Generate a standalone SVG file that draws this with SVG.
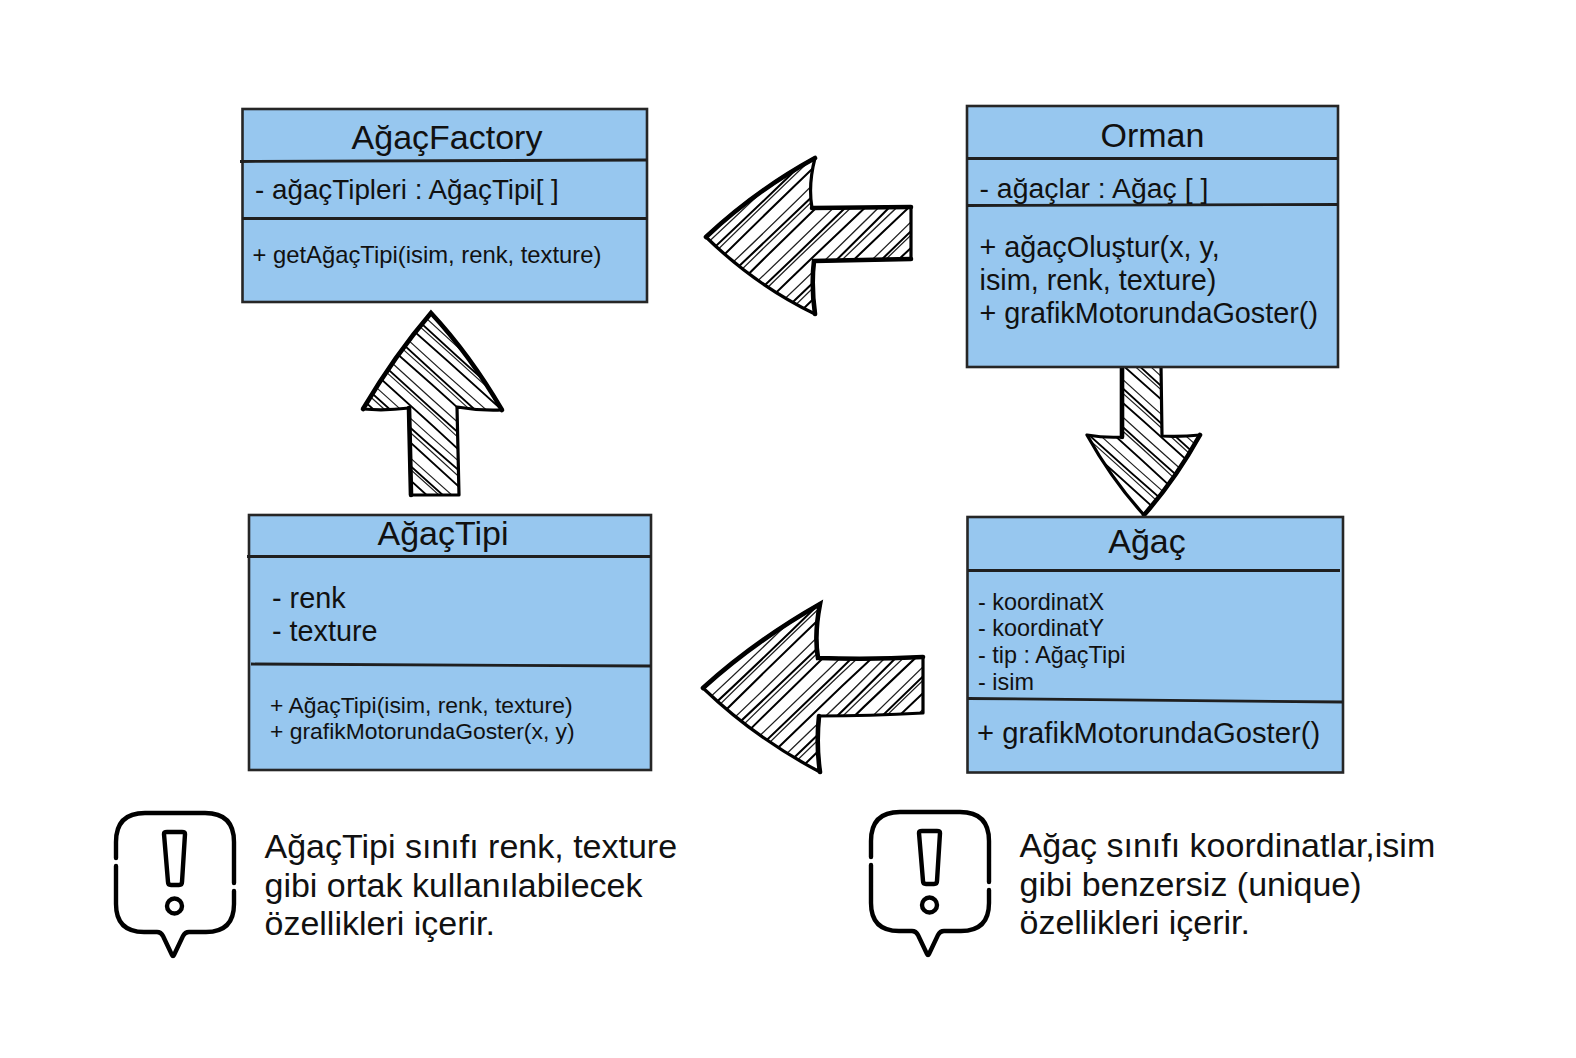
<svg xmlns="http://www.w3.org/2000/svg" xmlns:xlink="http://www.w3.org/1999/xlink" width="1576" height="1058" viewBox="0 0 1576 1058">
<style>
text{font-family:"Liberation Sans",Arial,sans-serif;fill:#111}
.box{fill:#97c7ef;stroke:#262626;stroke-width:2.6}
.sep{stroke:#1f1f1f;stroke-width:2.8;fill:none}
.title{font-size:34px;text-anchor:middle}
.t27{font-size:28px}.t28{font-size:28.8px}.t23{font-size:23.4px}.t235{font-size:23.8px}.t227{font-size:22.9px}
.note{font-size:34px}
.thin{fill:none;stroke:#222;stroke-width:1.2}
.thick{fill:none;stroke:#000;stroke-width:1.9}
.out{fill:none;stroke:#000;stroke-width:3.2;stroke-linejoin:round;stroke-linecap:round}
.heavy{fill:none;stroke:#000;stroke-width:4.6;stroke-linecap:round}
.ic{fill:none;stroke:#000;stroke-width:4.4;stroke-linecap:round;stroke-linejoin:round}
</style>
<defs>
<path id="a1" d="M706 237Q755 191 815 158Q808 185 812 208L911 207L911 259L814 261Q811 285 815 314Q755 285 706 237Z"/>
<path id="a2" d="M431 313Q395 355 363 409Q385 411 409 408L411 495L459 495L457 407Q480 411 502 410Q470 355 431 313Z"/>
<path id="a3" d="M1122 365L1161 365L1162 436Q1180 437 1200 435Q1175 480 1144 515Q1112 480 1087 435Q1105 438 1122 437Z"/>
<path id="a4" d="M703 688Q755 641 820 604Q814 635 818 658Q870 660 923 657L923 713Q870 716 819 716Q816 745 820 772Q755 738 703 688Z"/>
<clipPath id="c1"><use href="#a1"/></clipPath>
<clipPath id="c2"><use href="#a2"/></clipPath>
<clipPath id="c3"><use href="#a3"/></clipPath>
<clipPath id="c4"><use href="#a4"/></clipPath>
<g id="hatch">
<path class="thin" d="M-180 -150q180 4 360 0M-180 -136q180 -3 360 1M-180 -121q180 5 360 -1M-180 -107q180 -4 360 2M-180 -92q180 3 360 0M-180 -78q180 -5 360 -1M-180 -63q180 4 360 2M-180 -49q180 -3 360 0M-180 -34q180 5 360 -2M-180 -20q180 -4 360 1M-180 -5q180 3 360 0M-180 9q180 -5 360 2M-180 24q180 4 360 -1M-180 38q180 -3 360 0M-180 53q180 5 360 1M-180 67q180 -4 360 -2M-180 82q180 3 360 1M-180 96q180 -5 360 0M-180 111q180 4 360 1M-180 125q180 -3 360 -1M-180 140q180 5 360 0"/>
<path class="thick" d="M-180 -157q180 -3 360 1M-180 -143q180 4 360 -1M-180 -128q180 -4 360 1M-180 -114q180 3 360 0M-180 -99q180 -5 360 1M-180 -85q180 4 360 -1M-180 -70q180 -3 360 0M-180 -56q180 5 360 1M-180 -41q180 -4 360 -1M-180 -27q180 3 360 2M-180 -12q180 -5 360 -1M-180 2q180 4 360 0M-180 17q180 -3 360 2M-180 31q180 5 360 -2M-180 46q180 -4 360 0M-180 60q180 3 360 1M-180 75q180 -5 360 0M-180 89q180 4 360 -1M-180 104q180 -3 360 1M-180 118q180 5 360 0M-180 133q180 -4 360 0M-180 147q180 3 360 1"/>
</g>
<g id="icon">
<path class="ic" d="M116 858V842Q116 813 145 813H205Q234 813 234 842V883M234 891V904Q234 932 206 932H189Q185 932 183 936L174 955Q173 957 172 955L163 936Q161 932 157 932H144Q116 932 116 904V866"/>
<path class="ic" d="M164 834Q164 832 167 832H182Q185 832 185 834L182 882Q182 885 179 885H171Q168 885 168 882Z"/>
<circle class="ic" cx="174.500" cy="906" r="7.500"/>
</g>
</defs>

<g id="connectors">
<g id="arrow-orman-factory"><use href="#a1" fill="#fff"/><g clip-path="url(#c1)"><use href="#hatch" transform="translate(810 236) rotate(-44) scale(1 1.08)"/></g><use href="#a1" class="out"/><path class="heavy" d="M706 237Q755 191 815 158M812 208L911 207M815 314Q811 285 814 261L911 259"/></g>
<g id="arrow-tipi-factory"><use href="#a2" fill="#fff"/><g clip-path="url(#c2)"><use href="#hatch" transform="translate(431 403) rotate(42) scale(1 .98)"/></g><use href="#a2" class="out"/><path class="heavy" d="M363 409Q395 355 431 313Q470 355 502 410M409 408L411 495"/></g>
<g id="arrow-orman-agac"><use href="#a3" fill="#fff"/><g clip-path="url(#c3)"><use href="#hatch" transform="translate(1143 440) rotate(42) scale(1 .98)"/></g><use href="#a3" class="out"/><path class="heavy" d="M1122 365L1122 437M1200 435Q1175 480 1144 515"/></g>
<g id="arrow-agac-tipi"><use href="#a4" fill="#fff"/><g clip-path="url(#c4)"><use href="#hatch" transform="translate(815 688) rotate(-44) scale(1 1.08)"/></g><use href="#a4" class="out"/><path class="heavy" d="M703 688Q755 641 820 604Q814 635 818 658Q870 660 923 657M820 772Q816 745 819 716"/></g>
</g>

<g id="node-agacfactory">
<rect class="box" x="242.500" y="109" width="404.500" height="193"/>
<path class="sep" d="M240 161.500L647 160M242 218.500H647"/>
<text class="title" x="447" y="149">AğaçFactory</text>
<text class="t27" x="255" y="199" style="font-size:27.8px">- ağaçTipleri : AğaçTipi[ ]</text>
<text class="t235" x="252.500" y="263">+ getAğaçTipi(isim, renk, texture)</text>
</g>

<g id="node-orman">
<rect class="box" x="967" y="106" width="371" height="261"/>
<path class="sep" d="M967 158.500H1338M967 205.500L1338 204.500"/>
<text class="title" x="1152.500" y="147">Orman</text>
<text class="t27" x="979.500" y="198" style="font-size:28.4px">- ağaçlar : Ağaç [ ]</text>
<text class="t28" x="979.500" y="257">+ ağaçOluştur(x, y,</text>
<text class="t28" x="979.500" y="290">isim, renk, texture)</text>
<text class="t28" x="979.500" y="323">+ grafikMotorundaGoster()</text>
</g>

<g id="node-agactipi">
<rect class="box" x="249" y="515" width="402" height="255"/>
<path class="sep" d="M247 556.500H651M251 664L651 666"/>
<text class="title" x="443" y="545">AğaçTipi</text>
<text class="t28" x="272" y="608">- renk</text>
<text class="t28" x="272" y="641">- texture</text>
<text class="t227" x="270" y="713">+ AğaçTipi(isim, renk, texture)</text>
<text class="t227" x="270" y="739">+ grafikMotorundaGoster(x, y)</text>
</g>

<g id="node-agac">
<rect class="box" x="967.500" y="517" width="375.500" height="255.500"/>
<path class="sep" d="M968 570.500H1340M968 698.500L1343 702"/>
<text class="title" x="1147" y="553">Ağaç</text>
<text class="t23" x="978" y="610">- koordinatX</text>
<text class="t23" x="978" y="636">- koordinatY</text>
<text class="t23" x="978" y="663">- tip : AğaçTipi</text>
<text class="t23" x="978" y="690">- isim</text>
<text class="t28" x="977" y="743" style="font-size:29.2px">+ grafikMotorundaGoster()</text>
</g>

<g id="note-agactipi">
<use href="#icon"/>
<text class="note" x="264.500" y="858">AğaçTipi sınıfı renk, texture</text>
<text class="note" x="264.500" y="897">gibi ortak kullanılabilecek</text>
<text class="note" x="264.500" y="935">özellikleri içerir.</text>
</g>

<g id="note-agac">
<use href="#icon" transform="translate(755 -1)"/>
<text class="note" x="1019.500" y="857">Ağaç sınıfı koordinatlar,isim</text>
<text class="note" x="1019.500" y="896">gibi benzersiz (unique)</text>
<text class="note" x="1019.500" y="934">özellikleri içerir.</text>
</g>
</svg>
